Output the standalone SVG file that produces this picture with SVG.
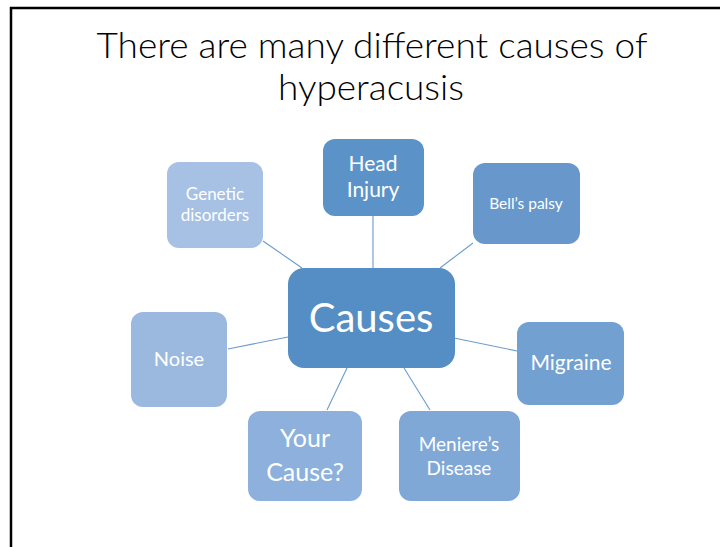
<svg xmlns="http://www.w3.org/2000/svg" width="720" height="547" viewBox="0 0 720 547">
<style>
text{font-family:Lato,"Open Sans","Liberation Sans",sans-serif;fill:#fff;text-anchor:middle}
.title{fill:#000;font-weight:300;font-size:36px}
.conn line{stroke:#6a9bd0;stroke-width:1.1}
</style>
<rect width="720" height="547" fill="#fff"/>
<path d="M11 547V8H720" fill="none" stroke="#000" stroke-width="2.5"/>
<g id="title">
<text class="title" x="372" y="58" textLength="551" lengthAdjust="spacingAndGlyphs">There are many different causes of</text>
<text class="title" x="371" y="100" textLength="186" lengthAdjust="spacingAndGlyphs">hyperacusis</text>
</g>
<g class="conn" id="connectors">
<line x1="263" y1="241" x2="302" y2="268"/>
<line x1="373" y1="216" x2="373" y2="268"/>
<line x1="473" y1="243" x2="440" y2="268"/>
<line x1="228" y1="349" x2="288" y2="337"/>
<line x1="454" y1="338" x2="517" y2="351"/>
<line x1="347" y1="368" x2="327" y2="410"/>
<line x1="404" y1="368" x2="430" y2="410"/>
</g>
<g id="causes">
<rect x="288" y="268" width="167" height="100" rx="16" fill="#558ec4"/>
<text x="371" y="332" font-size="40">Causes</text>
</g>
<g id="head-injury">
<rect x="323" y="139" width="101" height="77" rx="12" fill="#5b93c8"/>
<text x="373" y="171" font-size="21">Head</text>
<text x="373" y="197" font-size="21">Injury</text>
</g>
<g id="genetic">
<rect x="167" y="162" width="96" height="86" rx="12" fill="#a6c1e4"/>
<text x="215" y="200" font-size="17">Genetic</text>
<text x="215" y="221" font-size="17">disorders</text>
</g>
<g id="bells-palsy">
<rect x="473" y="163" width="107" height="81" rx="12" fill="#6898cb"/>
<text x="526" y="209" font-size="15.5">Bell’s palsy</text>
</g>
<g id="noise">
<rect x="131" y="312" width="96" height="95" rx="12" fill="#9bb9df"/>
<text x="179" y="366" font-size="20">Noise</text>
</g>
<g id="migraine">
<rect x="517" y="322" width="107" height="83" rx="12" fill="#72a0d1"/>
<text x="571" y="370" font-size="21">Migraine</text>
</g>
<g id="your-cause">
<rect x="248" y="411" width="114" height="90" rx="12" fill="#8db1dc"/>
<text x="305" y="447" font-size="25">Your</text>
<text x="305" y="481" font-size="25">Cause?</text>
</g>
<g id="menieres">
<rect x="399" y="411" width="121" height="90" rx="12" fill="#7fa8d6"/>
<text x="459" y="451" font-size="19">Meniere’s</text>
<text x="459" y="475" font-size="19">Disease</text>
</g>
</svg>
